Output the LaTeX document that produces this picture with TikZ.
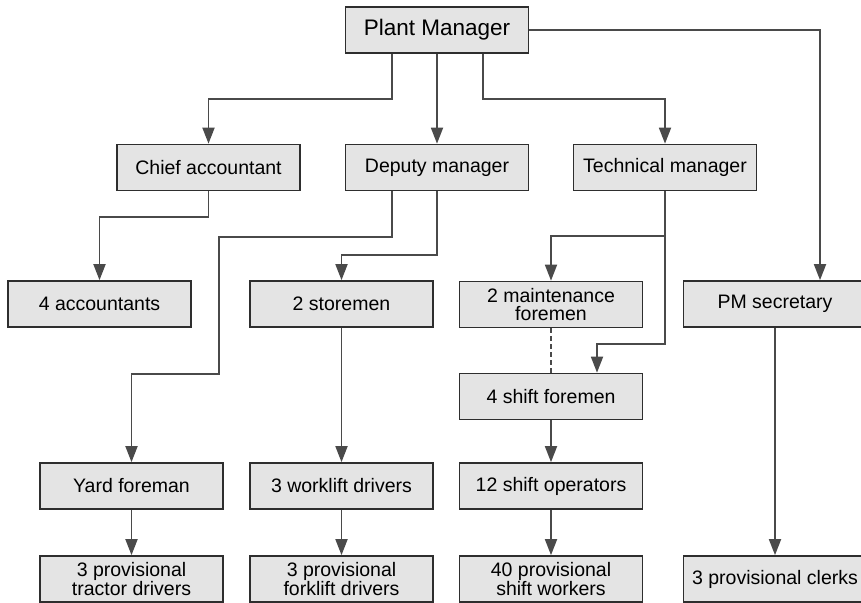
\documentclass[tikz,border=0pt]{standalone}
\usepackage{fontspec}
\setmainfont{Liberation Sans}
\usetikzlibrary{arrows.meta}
\definecolor{boxfill}{HTML}{E4E4E4}
\definecolor{boxline}{HTML}{2E2E2E}
\definecolor{conn}{HTML}{4A4A4A}
\begin{document}
\begin{tikzpicture}[x=1pt,y=-1pt,
  orgbox/.style={draw=boxline, line width=1.7pt, fill=boxfill, minimum width=183pt, minimum height=46pt, inner sep=0pt, align=center, font=\fontsize{19.5}{18}\selectfont},
  arr/.style={draw=conn, line width=1.8pt, -{Triangle[length=16pt,width=12pt]}},
  dashconn/.style={draw=conn, line width=2.4pt, dash pattern=on 5pt off 3pt}]
\fill[white] (0,0) rectangle (861,602);
\useasboundingbox (0,0) rectangle (861,602);
\clip (0,0) rectangle (861,602);

\node[orgbox, font=\fontsize{22.5}{26}\selectfont] (PM) at (437,30) {Plant Manager};
\node[orgbox] (Chief) at (208.5,167.5) {Chief accountant};
\node[orgbox] (Deputy) at (437,167.5) {Deputy manager};
\node[orgbox] (TM) at (665,167.5) {Technical manager};
\node[orgbox] (Acc4) at (99.5,304) {4 accountants};
\node[orgbox] (Store) at (341.5,304) {2 storemen};
\node[orgbox] (Maint) at (551,304.5) {2 maintenance\\foremen};
\node[orgbox] (PMsec) at (775,304) {PM secretary};
\node[orgbox] (Shift4) at (551,396.5) {4 shift foremen};
\node[orgbox] (Yard) at (131.5,486) {Yard foreman};
\node[orgbox] (Work3) at (341.5,486) {3 worklift drivers};
\node[orgbox] (Ops12) at (551,486) {12 shift operators};
\node[orgbox] (Tractor) at (131.5,579) {3 provisional\\tractor drivers};
\node[orgbox] (Forklift) at (341.5,579) {3 provisional\\forklift drivers};
\node[orgbox] (Workers) at (551,579) {40 provisional\\shift workers};
\node[orgbox] (Clerks) at (775,579) {3 provisional clerks};

\draw[arr] ([xshift=-45pt]PM.south) -- ++(0,45) -| (Chief.north);
\draw[arr] (PM.south) -- (Deputy.north);
\draw[arr] ([xshift=46pt]PM.south) -- ++(0,45) -| (TM.north);
\draw[arr] (PM.east) -| ([xshift=45pt]PMsec.north);

\draw[arr] (Chief.south) -- ++(0,26) -| (Acc4.north);
\draw[arr] ([xshift=-45pt]Deputy.south) -- ++(0,45.5) -- ++(-173,0) -- ++(0,137) -| (Yard.north);
\draw[arr] (Deputy.south) -- ++(0,63.5) -| (Store.north);
\draw[arr] (TM.south) -- ++(0,44.5) -| (Maint.north);
\draw[arr] (TM.south) -- ++(0,152.5) -| ([xshift=46pt]Shift4.north);
\draw[dashconn] (Maint.south) -- (Shift4.north);

\draw[arr] (Store.south) -- (Work3.north);
\draw[arr] (Shift4.south) -- (Ops12.north);
\draw[arr] (Yard.south) -- (Tractor.north);
\draw[arr] (Work3.south) -- (Forklift.north);
\draw[arr] (Ops12.south) -- (Workers.north);
\draw[arr] (PMsec.south) -- (Clerks.north);
\end{tikzpicture}
\end{document}
